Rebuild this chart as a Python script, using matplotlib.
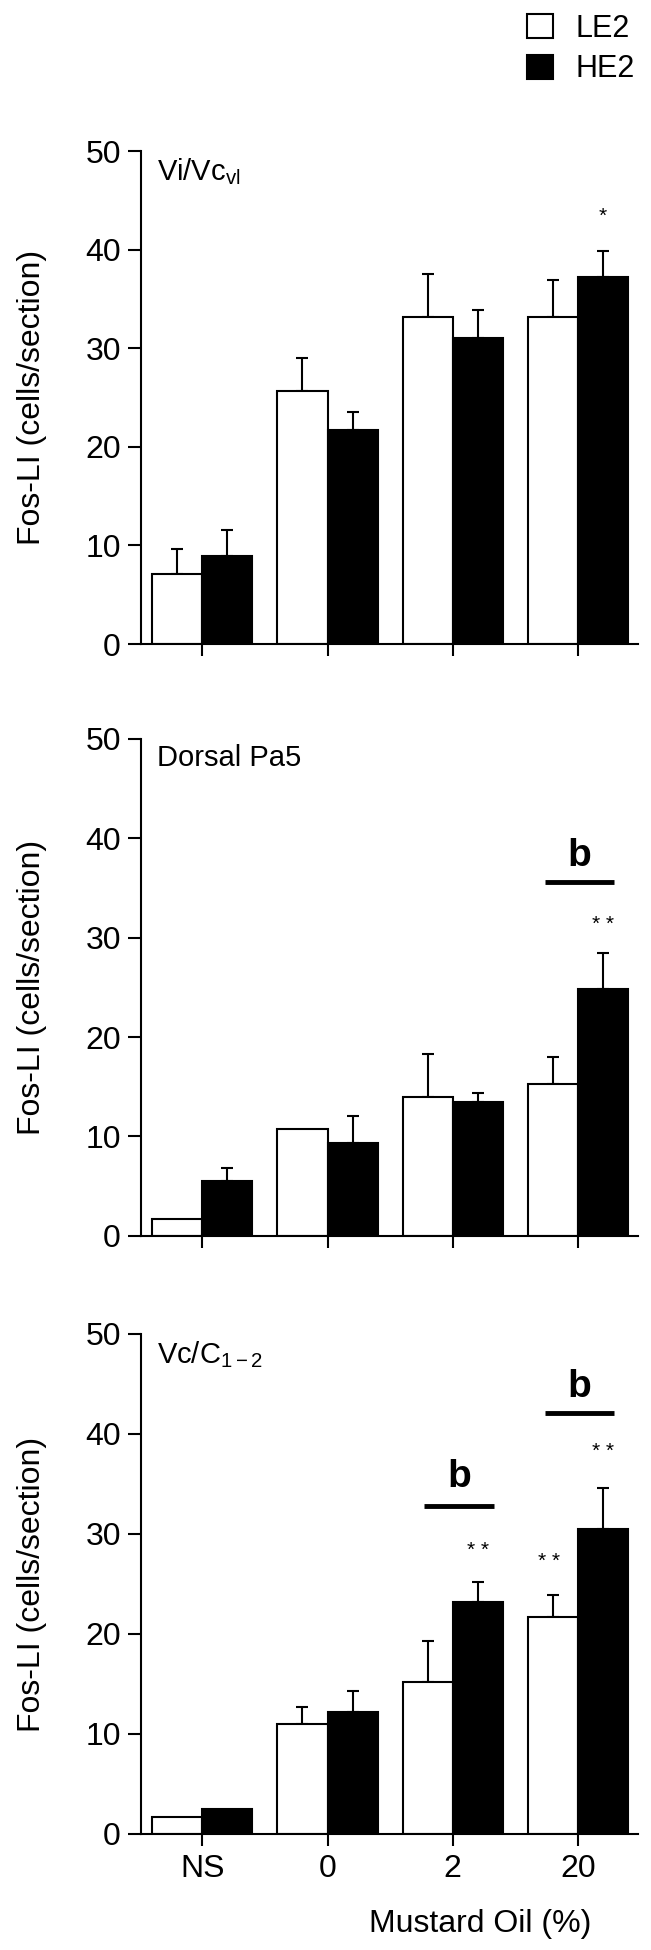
import numpy as np
import matplotlib
matplotlib.use('Agg')
import matplotlib.pyplot as plt
from matplotlib.patches import Patch

plt.rcParams['font.family'] = ['Liberation Sans', 'DejaVu Sans']
plt.rcParams['mathtext.fontset'] = 'custom'
plt.rcParams['mathtext.rm'] = 'Liberation Sans'
plt.rcParams['mathtext.it'] = 'Liberation Sans'

# data
doses = ['NS', '0', '2', '20']
regions = ['Vi/Vc$_{\\mathrm{vl}}$', 'Dorsal Pa5', 'Vc/C$_{\\mathrm{1-2}}$']

le2_mean = [[7.1, 25.7, 33.2, 33.2],
            [1.7, 10.8, 14.0, 15.3],
            [1.7, 11.0, 15.2, 21.7]]
le2_err = [[2.5, 3.3, 4.3, 3.7],
           [0.0, 0.0, 4.3, 2.7],
           [0.0, 1.7, 4.1, 2.2]]
he2_mean = [[8.9, 21.7, 31.0, 37.2],
            [5.5, 9.3, 13.5, 24.8],
            [2.5, 12.2, 23.2, 30.5]]
he2_err = [[2.7, 1.8, 2.9, 2.7],
           [1.3, 2.8, 0.9, 3.7],
           [0.0, 2.1, 2.0, 4.1]]

# significance stars: (panel, x, y, text)
stars = [(0, 3.2, 42.8, '*'),
         (1, 3.2, 30.8, '* *'),
         (2, 2.2, 27.8, '* *'),
         (2, 2.77, 26.7, '* *'),
         (2, 3.2, 37.7, '* *')]
# "b" brackets: (panel, x0, x1, line y, letter y)
brackets = [(1, 2.74, 3.29, 35.6, 37.2),
            (2, 1.77, 2.33, 32.8, 34.7),
            (2, 2.74, 3.29, 42.1, 43.7)]

fig = plt.figure(figsize=(6.51, 19.5), dpi=100)
boxes = [(0.2166, 0.6697, 0.7634, 0.2528),
         (0.2166, 0.3662, 0.7634, 0.2549),
         (0.2166, 0.0595, 0.7634, 0.2564)]

x = np.arange(len(doses))
w = 0.4
lw = 1.5
axes = []
for i, box in enumerate(boxes):
    ax = fig.add_axes(box)
    axes.append(ax)
    ax.bar(x - w / 2, le2_mean[i], w, color='white', edgecolor='black', linewidth=lw, zorder=2)
    ax.bar(x + w / 2, he2_mean[i], w, color='black', edgecolor='black', linewidth=lw, zorder=2)
    for xs, m, e in [(x - w / 2, le2_mean[i], le2_err[i]), (x + w / 2, he2_mean[i], he2_err[i])]:
        m = np.array(m)
        e = np.array(e)
        keep = e > 0
        ax.errorbar(xs[keep], m[keep], yerr=[np.zeros(keep.sum()), e[keep]], fmt='none',
                    ecolor='black', elinewidth=lw, capsize=4.5, capthick=lw, zorder=1)

    ax.set_xlim(-0.49, 3.48)
    ax.set_ylim(0, 50)
    ax.set_yticks([0, 10, 20, 30, 40, 50])
    ax.set_xticks(x)
    ax.set_xticklabels(doses if i == 2 else [])
    for s in ['top', 'right']:
        ax.spines[s].set_visible(False)
    for s in ['left', 'bottom']:
        ax.spines[s].set_linewidth(lw)
    ax.tick_params(axis='y', length=9.5, width=lw, labelsize=23, pad=5)
    ax.tick_params(axis='x', length=8.5, width=lw, labelsize=23, pad=6)
    ax.set_ylabel('Fos-LI (cells/section)', fontsize=23, va='center')
    ax.yaxis.set_label_coords(-0.22, 0.5)
    ax.text(0.032, 0.99, regions[i], transform=ax.transAxes, fontsize=21, va='top', ha='left')

for p, xs, ys, t in stars:
    axes[p].text(xs, ys, t, fontsize=15, ha='center', va='baseline')
for p, x0, x1, yl, yb in brackets:
    axes[p].plot([x0, x1], [yl, yl], color='black', lw=3.5, solid_capstyle='butt')
    axes[p].text((x0 + x1) / 2, yb, 'b', fontsize=28, fontweight='bold', ha='center', va='baseline')

axes[2].set_xlabel('Mustard Oil (%)', fontsize=23)
axes[2].xaxis.set_label_coords(0.682, -0.15)

handles = [Patch(facecolor='white', edgecolor='black', linewidth=lw),
           Patch(facecolor='black', edgecolor='black', linewidth=lw)]
fig.legend(handles, ['LE2', 'HE2'], loc='upper right', bbox_to_anchor=(0.975, 0.993),
           frameon=False, fontsize=22, handlelength=0.85, handleheight=0.85,
           handletextpad=0.75, labelspacing=0.35, borderpad=0, borderaxespad=0)

fig.savefig('out.png', dpi=100)
